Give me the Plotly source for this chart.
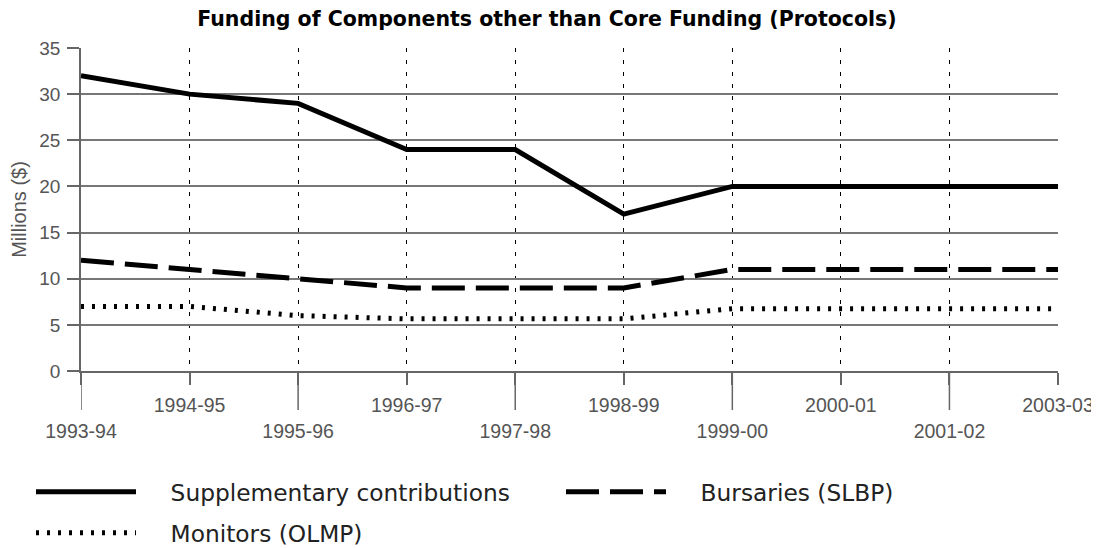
import plotly.graph_objects as go

categories = ["1993-94", "1994-95", "1995-96", "1996-97", "1997-98",
              "1998-99", "1999-00", "2000-01", "2001-02", "2003-03"]
supplementary = [32, 30, 29, 24, 24, 17, 20, 20, 20, 20]
bursaries = [12, 11, 10, 9, 9, 9, 11, 11, 11, 11]
monitors = [7, 7, 6, 5.65, 5.65, 5.65, 6.75, 6.75, 6.75, 6.75]
y_ticks = [0, 5, 10, 15, 20, 25, 30, 35]
series_names = ["Supplementary contributions", "Bursaries (SLBP)", "Monitors (OLMP)"]

# alternate tick label rows
tick_text = [c if i % 2 == 1 else "<br>" + c for i, c in enumerate(categories)]

# the page body has an 8px margin, so the figure is drawn 8px in from the corner
OFF = 8
W, H = 1099 - OFF, 548 - OFF
L, R, T, B = 81 - OFF, 41, 48 - OFF, 177
plot_h = H - T - B
plot_w = W - L - R
pad = "\u00a0" * 4

fig = go.Figure()
fig.add_trace(go.Scatter(x=categories, y=supplementary, mode="lines",
                         name=pad + series_names[0], legend="legend",
                         line=dict(color="black", width=5)))
fig.add_trace(go.Scatter(x=categories, y=bursaries, mode="lines",
                         name=pad + series_names[1], legend="legend3",
                         line=dict(color="black", width=5, dash="33px,11px")))
fig.add_trace(go.Scatter(x=categories, y=monitors, mode="lines",
                         name=pad + series_names[2], legend="legend2",
                         line=dict(color="black", width=5, dash="3px,8px")))

# long ticks under every other category (and y-axis extension)
for c in categories[::2]:
    fig.add_shape(type="line", xref="x", yref="paper", x0=c, x1=c,
                  y0=0, y1=-39 / plot_h, line=dict(color="#666", width=1.5))

legend_font = dict(family="DejaVu Sans", size=23.3, color="#222")


def legend_box(left_px, center_px):
    return dict(orientation="h", x=(left_px - OFF - L) / plot_w, xanchor="left",
                y=(371 - center_px) / plot_h, yanchor="middle",
                font=legend_font, itemwidth=100, bgcolor="rgba(0,0,0,0)")


fig.update_layout(
    width=W, height=H,
    margin=dict(l=L, r=R, t=T, b=B, autoexpand=False),
    paper_bgcolor="white", plot_bgcolor="white",
    font=dict(family="Liberation Sans, Arial, sans-serif", color="#444"),
    title=dict(text="Funding of Components other than Core Funding (Protocols)",
               x=0.494, xref="container", y=0.98, yref="container", yanchor="middle",
               font=dict(family="DejaVu Sans", size=20.5, color="black", weight="bold")),
    showlegend=True,
    legend=legend_box(31, 492),
    legend3=legend_box(561, 492),
    legend2=legend_box(31, 533),
    xaxis=dict(type="category", categoryorder="array", categoryarray=categories,
               range=[0, len(categories) - 1],
               tickvals=categories, ticktext=tick_text,
               ticks="outside", ticklen=12, tickcolor="#666", tickwidth=1.5,
               showline=True, linecolor="#666", linewidth=1.5,
               showgrid=True, gridcolor="black", gridwidth=1, griddash="4px,8px",
               tickfont=dict(size=19.5, color="#555"),
               ticklabelstandoff=4, automargin=False,
               zeroline=False, fixedrange=True),
    yaxis=dict(range=[0, 35], tickvals=y_ticks,
               ticks="outside", ticklen=12, tickcolor="#666", tickwidth=1.5,
               showline=True, linecolor="#666", linewidth=1.5,
               showgrid=True, gridcolor="#777", gridwidth=1.5,
               zeroline=False, automargin=False,
               tickfont=dict(size=19, color="#555"),
               ticklabelstandoff=3,
               title=dict(text="Millions ($)", font=dict(size=20, color="#555"),
                          standoff=8),
               fixedrange=True),
)

fig.write_html("out.html")
